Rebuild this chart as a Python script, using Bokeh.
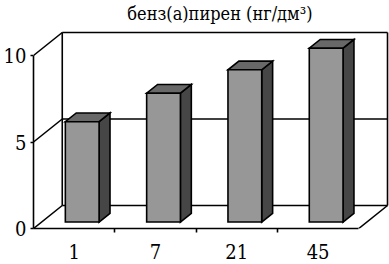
from bokeh.plotting import figure
from bokeh.models import Range1d, FixedTicker, LinearAxis, Label
from bokeh.embed import file_html
from bokeh.resources import INLINE

# ---- data ----
categories = ["1", "7", "21", "45"]
values = [5.8, 7.45, 8.8, 10.05]
y_ticks = [0, 5, 10]
title_text = "бенз(а)пирен (нг/дм³)"

# ---- layout / style constants (pixels) ----
W, H = 389, 264
LEFT, BOTTOM_PX = 30, 228          # frame left, baseline (value 0) pixel row
PX_CAT = 82.0                      # pixels per category
PX_UNIT = 17.3                     # pixels per value unit
DEPTH_PX = (29.0, 23.0)            # 3-D depth offset (right, up)
BAR_W = 0.415                      # bar width in category units
F1, F2 = 0.28, 0.66                # bar depth span (fraction of total depth)
FONT = "DejaVu Serif Condensed"

DX = DEPTH_PX[0] / PX_CAT
DY = DEPTH_PX[1] / PX_UNIT
n = len(categories)
VMAX = max(y_ticks)

p = figure(width=W, height=H, output_backend="svg", toolbar_location=None,
           x_range=Range1d(0, (W - LEFT) / PX_CAT),
           y_range=Range1d(0, BOTTOM_PX / PX_UNIT),
           x_axis_type=None, y_axis_type=None,
           min_border_left=LEFT, min_border_right=0, min_border_top=0,
           min_border_bottom=H - BOTTOM_PX)
p.outline_line_color = None
p.xgrid.visible = False
p.ygrid.visible = False

LW = 1.6
# back wall outline, gridlines, side-wall diagonals, floor edge
xs, ys = [], []
xs.append([DX, DX]); ys.append([DY, VMAX + DY])
xs.append([n + DX, n + DX]); ys.append([DY, VMAX + DY])
for t in y_ticks:
    xs.append([DX, n + DX]); ys.append([t + DY, t + DY])
    xs.append([0, DX]); ys.append([t, t + DY])
xs.append([n, n + DX]); ys.append([0, DY])
p.multi_line(xs, ys, line_color="black", line_width=LW)

# pseudo-3D bars
fx, fy, tx, ty, sx, sy = [], [], [], [], [], []
for i, v in enumerate(values):
    xl = i + 0.5 - BAR_W / 2 + F1 * DX
    xr = xl + BAR_W
    y0 = F1 * DY
    ddx = (F2 - F1) * DX
    ddy = (F2 - F1) * DY
    fx.append([xl, xr, xr, xl]); fy.append([y0, y0, y0 + v, y0 + v])
    tx.append([xl, xr, xr + ddx, xl + ddx]); ty.append([y0 + v, y0 + v, y0 + v + ddy, y0 + v + ddy])
    sx.append([xr, xr + ddx, xr + ddx, xr]); sy.append([y0, y0 + ddy, y0 + v + ddy, y0 + v])
p.patches(sx, sy, fill_color="#464646", line_color="black", line_width=LW, line_join="miter")
p.patches(tx, ty, fill_color="#686868", line_color="black", line_width=LW, line_join="miter")
p.patches(fx, fy, fill_color="#979797", line_color="black", line_width=LW, line_join="miter")

# front value axis
yaxis = LinearAxis(ticker=FixedTicker(ticks=y_ticks, minor_ticks=[]), bounds=(0, VMAX))
yaxis.axis_line_width = LW
yaxis.major_tick_line_width = LW
yaxis.major_tick_out = 3
yaxis.major_tick_in = 0
yaxis.major_label_standoff = 4
yaxis.major_label_text_font = FONT
yaxis.major_label_text_font_size = "20px"
yaxis.major_label_text_color = "black"
p.add_layout(yaxis, "left")

# front category axis
centers = [i + 0.5 for i in range(n)]
xaxis = LinearAxis(ticker=FixedTicker(ticks=centers, minor_ticks=list(range(1, n))),
                   bounds=(0, n))
xaxis.major_label_overrides = {c: lab for c, lab in zip(centers, categories)}
xaxis.axis_line_width = LW
xaxis.major_tick_out = 0
xaxis.major_tick_in = 0
xaxis.major_tick_line_color = None
xaxis.minor_tick_out = 4
xaxis.minor_tick_in = 0
xaxis.minor_tick_line_width = LW
xaxis.major_label_standoff = 11
xaxis.major_label_text_font = FONT
xaxis.major_label_text_font_size = "20px"
xaxis.major_label_text_color = "black"
p.add_layout(xaxis, "below")

# title
p.add_layout(Label(x=(218 - LEFT) / PX_CAT, y=(BOTTOM_PX - 13) / PX_UNIT, text=title_text,
                   text_align="center", text_baseline="middle", text_font=FONT,
                   text_font_size="18px", text_color="black"))

open("out.html", "w").write(file_html(p, INLINE))
